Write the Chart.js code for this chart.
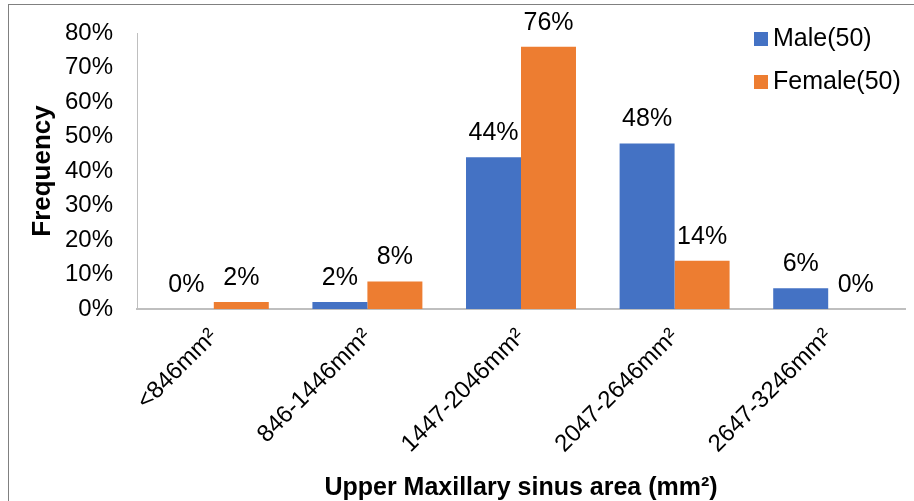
<!DOCTYPE html>
<html>
<head>
<meta charset="utf-8">
<script src="https://cdn.jsdelivr.net/npm/chart.js@4/dist/chart.umd.min.js"></script>
<style>
    html, body { margin: 0; padding: 0; background: #fff; }
    #wrap { position: relative; width: 914px; height: 501px; }
    #frame {
        position: absolute; left: 8px; top: 4px; right: 0; bottom: 0;
        border-top: 1px solid #808080; border-left: 1px solid #808080;
        pointer-events: none;
    }
    canvas { position: absolute; left: 0; top: 0; }
</style>
</head>
<body>
<div id="wrap">
    <canvas id="sinusChart" width="914" height="501"></canvas>
    <div id="frame"></div>
</div>
<script>
const categories = ["<846mm²", "846-1446mm²", "1447-2046mm²", "2047-2646mm²", "2647-3246mm²"];
const maleValues = [0, 2, 44, 48, 6];
const femaleValues = [2, 8, 76, 14, 0];
const seriesNames = ["Male(50)", "Female(50)"];
const seriesColors = ["#4472C4", "#ED7D31"];

const FONT = "Arial, 'Liberation Sans', sans-serif";

// Percent labels above each bar.
const barLabels = {
    id: "barLabels",
    afterDatasetsDraw(chart) {
        const ctx = chart.ctx;
        ctx.save();
        ctx.font = "25px " + FONT;
        ctx.fillStyle = "#000";
        ctx.textAlign = "center";
        ctx.textBaseline = "middle";
        chart.data.datasets.forEach((ds, i) => {
            chart.getDatasetMeta(i).data.forEach((bar, j) => {
                ctx.fillText(ds.data[j] + "%", bar.x, bar.y - 24);
            });
        });
        ctx.restore();
    }
};

// Legend sitting inside the plot, top right.
const cornerLegend = {
    id: "cornerLegend",
    afterDraw(chart) {
        const ctx = chart.ctx;
        ctx.save();
        ctx.font = "25px " + FONT;
        ctx.textBaseline = "middle";
        ctx.textAlign = "left";
        chart.data.datasets.forEach((ds, i) => {
            const y = 39 + i * 43;
            ctx.fillStyle = ds.backgroundColor;
            ctx.fillRect(754, y - 7, 14, 14);
            ctx.fillStyle = "#000";
            ctx.fillText(ds.label, 773, y);
        });
        ctx.restore();
    }
};

// Fixed axis sizes so the plot area lands where the original has it.
function fixPadding(scale) {
    scale.paddingTop = 0;
    scale.paddingBottom = 0;
    scale.paddingLeft = 0;
    scale.paddingRight = 0;
}

new Chart(document.getElementById("sinusChart"), {
    type: "bar",
    data: {
        labels: categories,
        datasets: [
            { label: seriesNames[0], data: maleValues, backgroundColor: seriesColors[0] },
            { label: seriesNames[1], data: femaleValues, backgroundColor: seriesColors[1] }
        ]
    },
    options: {
        responsive: false,
        animation: false,
        devicePixelRatio: 1,
        layout: { padding: { top: 33, right: 9, left: 0, bottom: 0 } },
        datasets: {
            bar: { barPercentage: 1, categoryPercentage: 0.716 }
        },
        plugins: {
            legend: { display: false },
            tooltip: { enabled: false }
        },
        scales: {
            x: {
                grid: { display: false, drawTicks: false },
                border: { color: "#BFBFBF", width: 2 },
                ticks: {
                    color: "#000",
                    font: { family: FONT, size: 24 },
                    minRotation: 45,
                    maxRotation: 45,
                    padding: 14
                },
                title: {
                    display: true,
                    text: "Upper Maxillary sinus area (mm²)",
                    color: "#000",
                    font: { family: FONT, size: 25, weight: "bold" },
                    padding: { top: 0, bottom: -2 }
                },
                afterFit: (scale) => { scale.height = 192; fixPadding(scale); }
            },
            y: {
                min: 0,
                max: 80,
                grid: { display: false, drawTicks: false },
                border: { color: "#BFBFBF", width: 1 },
                ticks: {
                    stepSize: 10,
                    color: "#000",
                    font: { family: FONT, size: 24 },
                    padding: 24,
                    callback: (v) => v + "%"
                },
                title: {
                    display: true,
                    text: "Frequency",
                    color: "#000",
                    font: { family: FONT, size: 26, weight: "bold" },
                    padding: { top: 27, bottom: 0 }
                },
                afterFit: (scale) => { scale.width = 137; fixPadding(scale); }
            }
        }
    },
    plugins: [barLabels, cornerLegend]
});
</script>
</body>
</html>
